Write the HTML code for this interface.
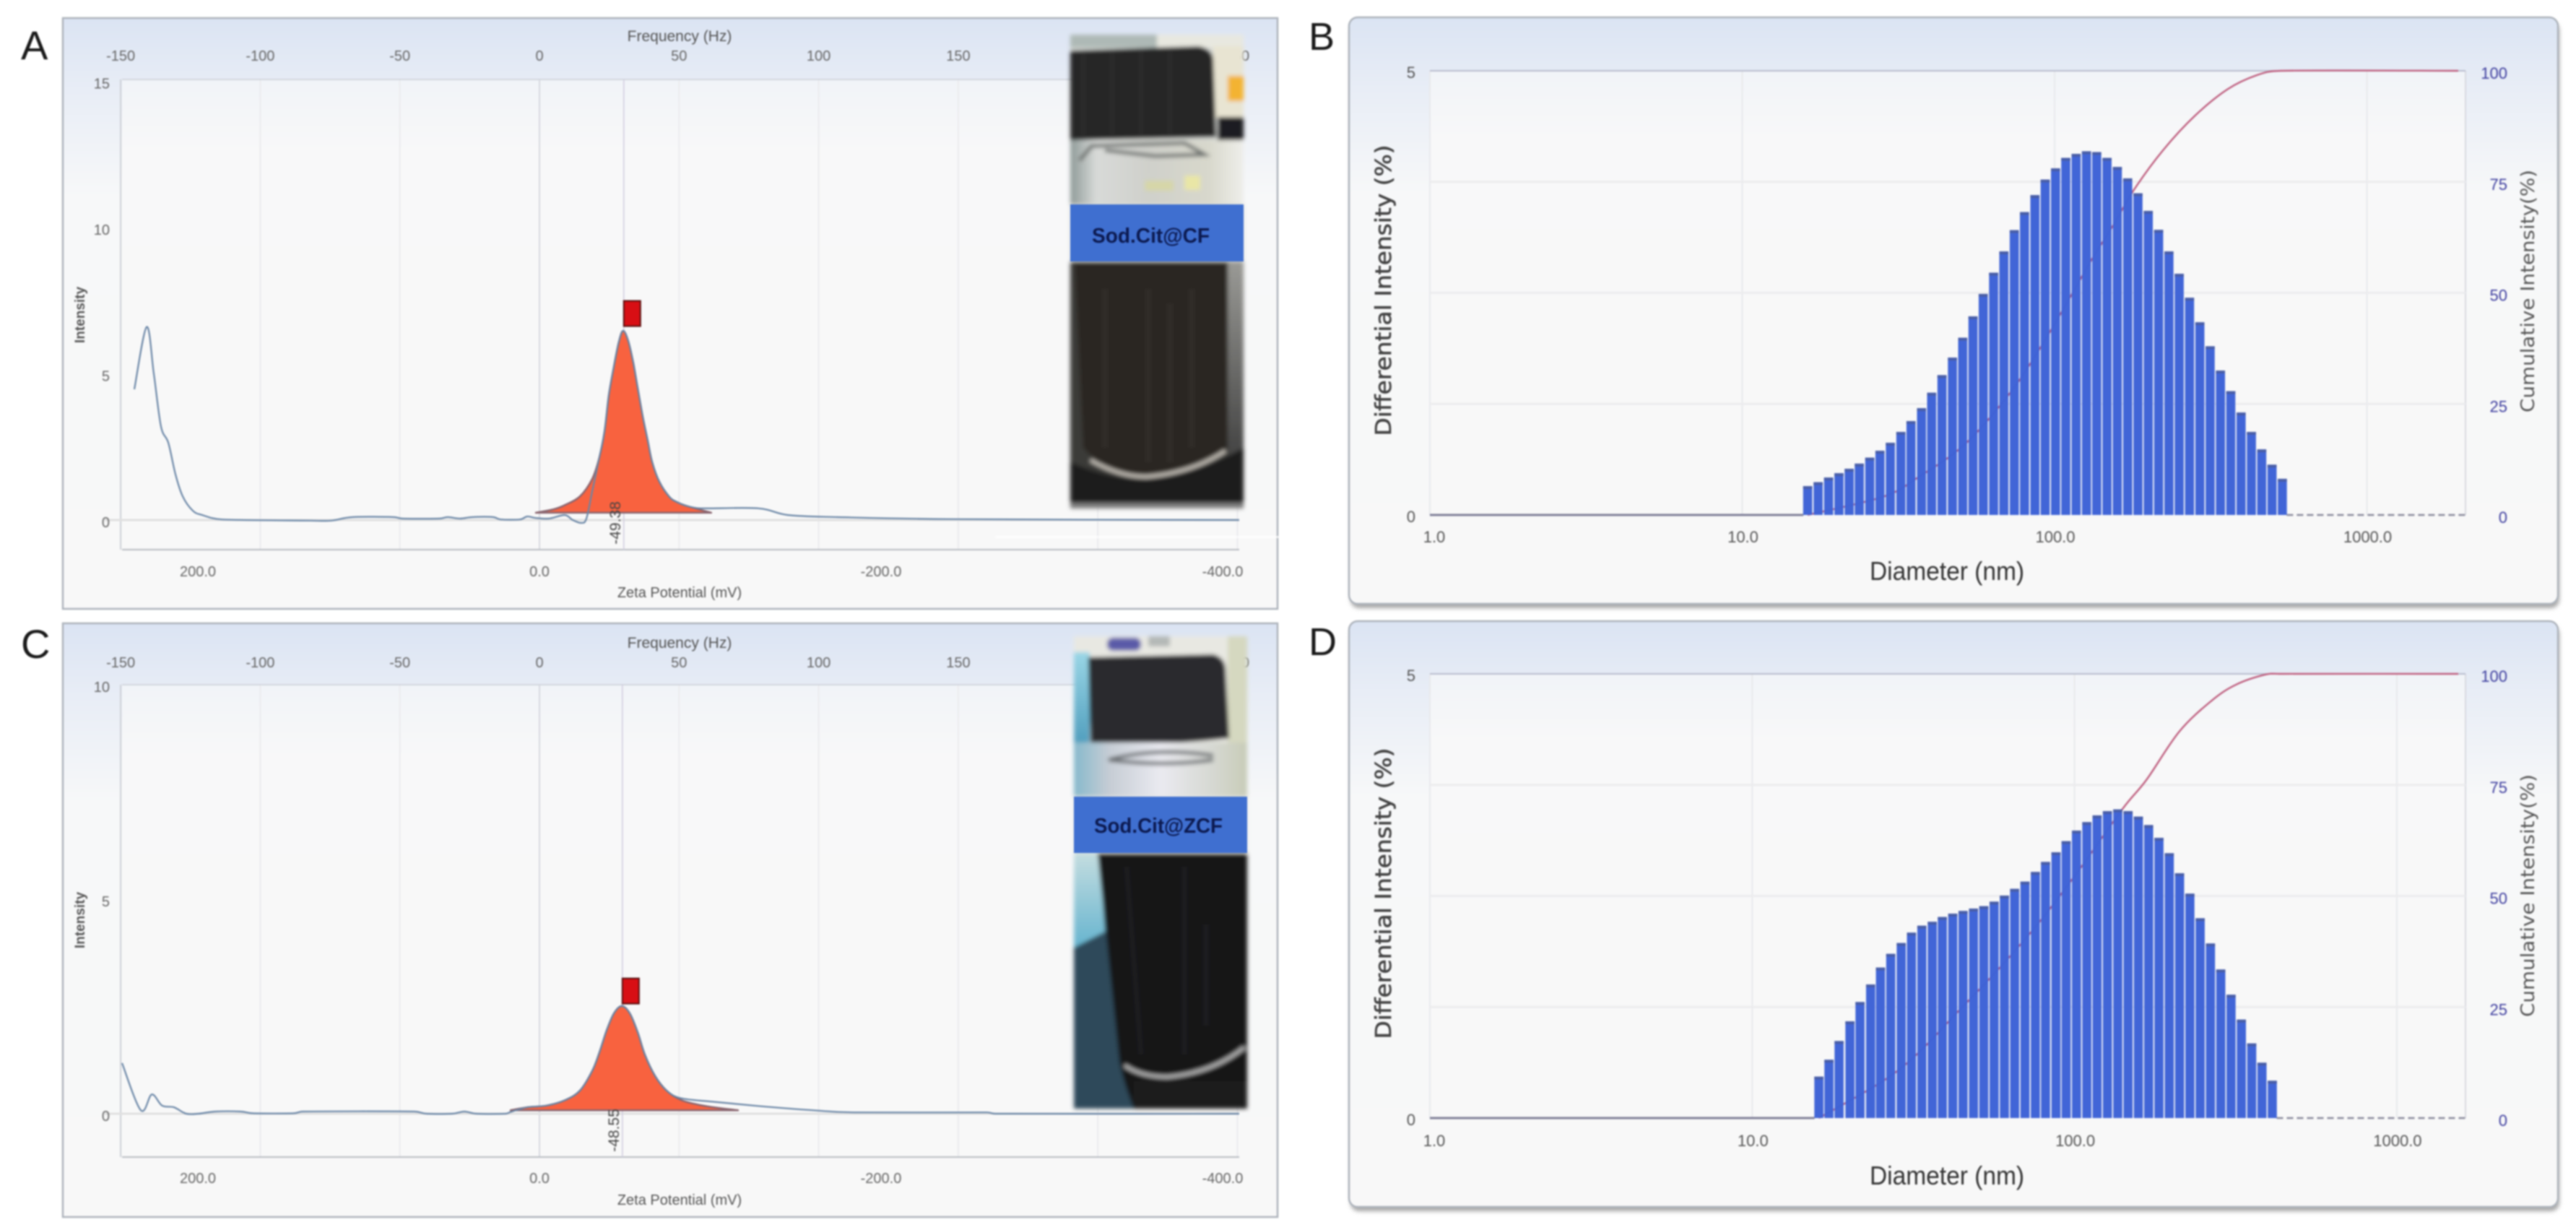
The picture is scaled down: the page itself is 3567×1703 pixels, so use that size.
<!DOCTYPE html>
<html lang="en">
<head>
<meta charset="utf-8">
<title>Zeta potential and particle size distributions</title>
<style>
  html, body { margin: 0; padding: 0; background: #ffffff; }
  #figure { display: block; width: 3567px; height: 1703px; filter: blur(1px); }
  text { font-family: "Liberation Sans", sans-serif; }
</style>
</head>
<body>
<svg id="figure" xmlns="http://www.w3.org/2000/svg" width="3567" height="1703" viewBox="0 0 3567 1703">
  <defs>
    <linearGradient id="panelGrad" x1="0" y1="0" x2="0" y2="1">
      <stop offset="0" stop-color="#dbe4f3"/>
      <stop offset="0.12" stop-color="#e8edf6"/>
      <stop offset="0.3" stop-color="#f7f8f9"/>
      <stop offset="1" stop-color="#f8f8f8"/>
    </linearGradient>
    <linearGradient id="plotGrad" x1="0" y1="0" x2="0" y2="1">
      <stop offset="0" stop-color="#f1f4f8"/>
      <stop offset="0.15" stop-color="#f8f8f9"/>
      <stop offset="1" stop-color="#f8f8f8"/>
    </linearGradient>
    <linearGradient id="glassA" x1="0" y1="0" x2="1" y2="0">
      <stop offset="0" stop-color="#8f9a98"/>
      <stop offset="0.15" stop-color="#d8dad8"/>
      <stop offset="0.45" stop-color="#cfd0cb"/>
      <stop offset="0.8" stop-color="#d8d8cc"/>
      <stop offset="1" stop-color="#eeeeea"/>
    </linearGradient>
    <linearGradient id="glassC" x1="0" y1="0" x2="1" y2="0">
      <stop offset="0" stop-color="#86b9cc"/>
      <stop offset="0.2" stop-color="#c5ccd4"/>
      <stop offset="0.5" stop-color="#eaeaf0"/>
      <stop offset="0.8" stop-color="#d6d8d2"/>
      <stop offset="1" stop-color="#c8ccb8"/>
    </linearGradient>
    <linearGradient id="sideGreyA" x1="0" y1="0" x2="0" y2="1">
      <stop offset="0" stop-color="#9a9a96"/>
      <stop offset="1" stop-color="#3a3a3a"/>
    </linearGradient>
    <linearGradient id="leftBlueC" x1="0" y1="0" x2="0" y2="1">
      <stop offset="0" stop-color="#9ad6e6"/>
      <stop offset="1" stop-color="#4f9dbd"/>
    </linearGradient>
    <linearGradient id="leftCyanC" x1="0" y1="0" x2="0" y2="1">
      <stop offset="0" stop-color="#c4dde0"/>
      <stop offset="1" stop-color="#66b4cf"/>
    </linearGradient>
    <filter id="photoBlur" x="-5%" y="-5%" width="110%" height="110%"><feGaussianBlur stdDeviation="3"/></filter>
    <filter id="softShadow" x="-2%" y="-5%" width="104%" height="110%"><feGaussianBlur stdDeviation="3"/></filter>
  </defs>

  <g id="charts"></g>

  <g>
    <g filter="url(#photoBlur)">
      <rect x="1482" y="48" width="240" height="656" fill="#d9dcd8"/>
      <rect x="1482" y="48" width="120" height="18" fill="#aeb9b6"/>
      <rect x="1602" y="48" width="120" height="18" fill="#e8e8e0"/>
      <rect x="1680" y="64" width="42" height="100" fill="#e8e4d2"/>
      <rect x="1700" y="105" width="22" height="35" fill="#f3b332"/>
      <rect x="1686" y="162" width="36" height="38" fill="#1f1f20"/>
      <path d="M1482 70 L1660 64 Q1679 68 1680 82 L1684 190 L1482 194 Z" fill="#262628"/>
      <path d="M1500 72V186M1540 70V186M1580 68V186M1620 68V186" stroke="#303032" stroke-width="3" fill="none"/>
      <rect x="1482" y="194" width="240" height="89" fill="url(#glassA)"/>
      <path d="M1495 222 L1512 202 L1640 198 L1668 214 L1600 216 L1530 208" stroke="#6a6e6c" stroke-width="5" fill="none"/>
      <rect x="1640" y="243" width="22" height="20" fill="#e9e6a6"/>
      <rect x="1585" y="250" width="40" height="14" fill="#d6d6a8"/>
      <rect x="1482" y="362" width="240" height="342" fill="#3b3b39"/>
      <rect x="1700" y="362" width="22" height="300" fill="url(#sideGreyA)"/>
      <path d="M1488 362 H1700 V625 Q1660 650 1590 660 Q1530 655 1500 620 Z" fill="#2a2521"/>
      <path d="M1530 400V620M1590 400V640M1620 420V640M1650 400V620" stroke="#322e2a" stroke-width="7" fill="none"/>
      <path d="M1482 640 Q1540 665 1590 664 Q1660 655 1722 620 V698 H1482 Z" fill="#1c1b1b"/>
      <path d="M1510 637 Q1550 660 1587 660 Q1650 655 1697 624" stroke="#c2bdb5" stroke-width="5" fill="none"/>
      <rect x="1482" y="696" width="240" height="8" fill="#7c7c7c"/>
    </g>
    <rect x="1482" y="283" width="240" height="79" fill="#3f6fd0"/>
    <text x="1512" y="336" font-size="29" font-weight="bold" textLength="163" lengthAdjust="spacingAndGlyphs" fill="#0c1a50">Sod.Cit@CF</text>
  </g>

  <g>
    <g filter="url(#photoBlur)">
      <rect x="1487" y="881" width="240" height="654" fill="#e8e8e2"/>
      <rect x="1533" y="883" width="47" height="18" rx="8" fill="#5a5aa8"/>
      <rect x="1590" y="881" width="30" height="14" fill="#b4b8b6"/>
      <rect x="1487" y="903" width="22" height="130" fill="url(#leftBlueC)"/>
      <rect x="1700" y="881" width="27" height="222" fill="#d5d8c0"/>
      <path d="M1507 910 L1680 906 Q1695 910 1697 925 L1702 1022 Q1600 1034 1510 1028 Z" fill="#2a2a2e"/>
      <rect x="1487" y="1028" width="240" height="75" fill="url(#glassC)"/>
      <path d="M1535 1052 Q1600 1034 1680 1046 M1535 1052 Q1610 1062 1680 1052" stroke="#6a6e72" stroke-width="5" fill="none"/>
      <rect x="1487" y="1181" width="240" height="354" fill="#2d4a5a"/>
      <path d="M1487 1181 H1522 L1530 1290 L1487 1312 Z" fill="url(#leftCyanC)"/>
      <path d="M1520 1181 H1727 V1535 H1570 Q1556 1500 1550 1470 Z" fill="#121214"/>
      <path d="M1560 1200L1580 1460M1640 1200V1460M1670 1280V1420" stroke="#1e1e20" stroke-width="7" fill="none"/>
      <path d="M1557 1475 Q1580 1491 1617 1491 Q1680 1485 1723 1450" stroke="#b4b4b4" stroke-width="5" fill="none"/>
      <rect x="1570" y="1497" width="157" height="38" fill="#1a1a1c"/>
    </g>
    <rect x="1487" y="1103" width="240" height="78" fill="#3f6fd0"/>
    <text x="1515" y="1153" font-size="29" font-weight="bold" textLength="178" lengthAdjust="spacingAndGlyphs" fill="#0c1a50">Sod.Cit@ZCF</text>
  </g>

  <rect x="1378" y="742" width="412" height="3" fill="#ffffff" opacity="0.7"/>
</svg>

<script>
// ---------- Panel A: zeta potential ----------
const zetaA = [237.2,230,225.8,221.6,217.3,213.1,208.9,203,197.5,186,134,121.8,109.5,85.4,80.3,58.8,53.7,46.5,39.3,27,22.8,11.4,7.2,2.1,-5.5,-14.8,-19.5,-24.5,-27.5,-30.9,-35.1,-38.1,-40.6,-43.6,-46.5,-49,-52,-55,-57.5,-60.5,-63.4,-66,-70.2,-76.1,-80.3,-85.8,-94.3,-128,-145.5,-174.6,-242,-409.7];
const intensityA = [4.47,6.6,5.0,3.2,2.64,1.56,0.81,0.32,0.17,0.02,-0.02,-0.02,0.1,0.1,0.05,0.05,0.1,0.05,0.1,0.1,0.02,0.02,0.12,0.07,0.05,0.17,0,-0.1,0.05,0.99,2.15,3.04,4.27,5.26,6.1,6.47,6.12,5.36,4.52,3.53,2.72,1.98,1.31,0.79,0.62,0.49,0.4,0.4,0.17,0.1,0.03,0];
const fitZetaA = [2.1,-8.5,-15.2,-23.7,-30.9,-35.1,-38.1,-40.6,-43.6,-46.5,-49,-52,-55,-57.5,-60.5,-63.4,-66,-70.2,-76.1,-80.3,-85.8,-100.6];
const fitIntensityA = [0.25,0.37,0.52,0.81,1.41,2.15,3.04,4.27,5.26,6.1,6.47,6.12,5.36,4.52,3.53,2.72,1.98,1.31,0.79,0.62,0.49,0.25];
const peakZetaA = [-49.38];
const markerIntensityA = [7.06];
const peakLabelA = ["-49.38"];
const intensityTicksA = [0,5,10,15];

// ---------- Panel C: zeta potential ----------
const zetaC = [244.4,233.4,227,221,214,206.8,199.6,189.9,175,167.9,143.8,138.7,73.2,66,51.2,44,36.8,19.9,16.9,7.2,-4.2,-15.2,-23.7,-30.9,-35.1,-39.3,-43.6,-48.2,-52.9,-57.5,-61.7,-67.7,-74.4,-82.9,-101.5,-128,-160,-184,-262,-267,-409.7];
const intensityC = [1.18,0.08,0.45,0.19,0.15,0,0,0.05,0.05,0.01,0.01,0.05,0.05,0,0,0.05,0,0,0.04,0.15,0.19,0.32,0.54,1.0,1.43,1.94,2.34,2.51,2.34,1.9,1.38,0.88,0.54,0.36,0.28,0.18,0.08,0.03,0.03,0,0];
const fitZetaC = [16.9,7.2,-4.2,-15.2,-23.7,-30.9,-35.1,-39.3,-43.6,-48.2,-52.9,-57.5,-61.7,-67.7,-74.4,-82.9,-94.3,-105.7,-116.3];
const fitIntensityC = [0.08,0.15,0.19,0.32,0.54,1.0,1.43,1.94,2.34,2.51,2.34,1.9,1.38,0.88,0.54,0.32,0.2,0.13,0.08];
const peakZetaC = [-48.55];
const markerIntensityC = [2.86];
const peakLabelC = ["-48.55"];
const intensityTicksC = [0,5,10];

// ---------- Shared zeta axes ----------
const frequencyTicks = [-150,-100,-50,0,50,100,150,200,250];
const zetaTicks = [200,0,-200,-400];
const zetaTickLabels = ["200.0","0.0","-200.0","-400.0"];

// ---------- Panel B: size distribution ----------
const diametersB = [16.2,17.5,18.9,20.4,22.0,23.7,25.6,27.6,29.8,32.2,34.7,37.5,40.4,43.6,47.1,50.8,54.8,59.1,63.8,68.8,74.3,80.1,86.5,93.3,100.7,108.6,117.2,126.5,136.4,147.2,158.8,171.4,184.9,199.5,215.3,232.3,250.6,270.4,291.8,314.8,339.7,366.5,395.5,426.7,460.4,496.8,536.0];
const differentialB = [0.325,0.369,0.421,0.470,0.520,0.578,0.645,0.723,0.813,0.935,1.057,1.202,1.376,1.574,1.771,1.995,2.236,2.488,2.727,2.967,3.206,3.409,3.600,3.775,3.902,4.019,4.065,4.094,4.085,4.019,3.917,3.789,3.621,3.423,3.209,2.967,2.715,2.445,2.169,1.899,1.626,1.394,1.153,0.935,0.738,0.566,0.407];
const cumulativeDiameterB = [16.2,28.5,36.8,51.4,71.5,89.9,111.9,131.2,154.9,179.5,222.3,282.5,358.9,443.6,530.9,1960];
const cumulativeB = [0,4.2,8.6,15.8,27.2,37.6,48.9,57.4,65.5,73.2,82.1,90,95.9,99,100,100];

// ---------- Panel D: size distribution ----------
const diametersD = [16.1,17.3,18.6,20.1,21.6,23.3,25.0,26.9,29.0,31.2,33.6,36.2,38.9,41.9,45.1,48.6,52.3,56.3,60.6,65.2,70.2,75.6,81.3,87.6,94.2,101.4,109.2,117.5,126.5,136.2,146.6,157.8,169.8,182.8,196.8,211.8,228.0,245.4,264.1,284.3,306.0,329.4,354.6,381.6,410.8];
const differentialD = [0.466,0.656,0.867,1.089,1.306,1.504,1.694,1.848,1.970,2.087,2.165,2.209,2.263,2.301,2.331,2.358,2.385,2.436,2.504,2.580,2.661,2.770,2.883,2.992,3.117,3.236,3.331,3.407,3.455,3.474,3.455,3.393,3.298,3.154,2.981,2.756,2.526,2.249,1.965,1.672,1.388,1.108,0.840,0.623,0.420];
const cumulativeDiameterD = [16.1,25.4,32.7,43.0,57.7,77.8,103.9,140.9,167.0,211.3,266.7,317.5,389.3,436,1551];
const cumulativeD = [0,8.3,14.6,23.6,33.3,44.1,56.1,69.6,76.1,87,94,97.6,99.8,100,100];

// ---------- Shared size axes ----------
const diameterTicks = [1,10,100,1000];
const diameterTickLabels = ["1.0","10.0","100.0","1000.0"];
const differentialTicks = [0,5];
const cumulativeTicks = [0,25,50,75,100];

const NS = 'http://www.w3.org/2000/svg';
const root = document.getElementById('charts');

function mk(parent, tag, attrs, content) {
  const el = document.createElementNS(NS, tag);
  for (const k in attrs) el.setAttribute(k, attrs[k]);
  if (content !== undefined) el.textContent = content;
  parent.appendChild(el);
  return el;
}
// Smooth path through the plotted values (Catmull-Rom with limited tangents).
function smoothPath(xs, ys, fx, fy) {
  const P = xs.map((v, i) => [fx(v), fy(ys[i])]);
  let d = 'M' + P[0][0].toFixed(1) + ' ' + P[0][1].toFixed(1);
  const limit = (t, seg) => {
    const m = Math.abs(t[0]);
    const f = m > seg / 2 ? (seg / 2) / m : 1;
    return [t[0] * f, t[1] * f];
  };
  for (let i = 0; i < P.length - 1; i++) {
    const p0 = P[Math.max(i - 1, 0)], p1 = P[i], p2 = P[i + 1], p3 = P[Math.min(i + 2, P.length - 1)];
    const seg = Math.abs(p2[0] - p1[0]) || 1;
    const t1 = limit([(p2[0] - p0[0]) / 6, (p2[1] - p0[1]) / 6], seg);
    const t2 = limit([(p3[0] - p1[0]) / 6, (p3[1] - p1[1]) / 6], seg);
    d += ' C' + (p1[0] + t1[0]).toFixed(1) + ' ' + (p1[1] + t1[1]).toFixed(1) + ' ' + (p2[0] - t2[0]).toFixed(1) + ' ' + (p2[1] - t2[1]).toFixed(1) + ' ' + p2[0].toFixed(1) + ' ' + p2[1].toFixed(1);
  }
  return d;
}

function drawZetaPanel(cfg) {
  const g = mk(root, 'g', {});
  
  

  const xZeta = mv => 747 - 2.365 * mv;
  const xFreq = hz => 747 + 3.866 * hz;
  const yI = v => cfg.y0 - cfg.pxPerUnit * v;
  const L = 169, R = 1716;

  const frame = mk(g, 'rect', { x: 87, y: cfg.frameTop, width: 1682, height: cfg.frameH, fill: 'url(#panelGrad)', stroke: '#aeb4bc', 'stroke-width': 2.5 });
  
  

  const plot = mk(g, 'rect', { x: L, y: cfg.top, width: R - L, height: cfg.bottom - cfg.top, fill: 'url(#plotGrad)' });
  
  

  frequencyTicks.forEach(hz => {
    const x = xFreq(hz);
    const line = mk(g, 'line', { x1: x, x2: x, y1: cfg.top, y2: cfg.bottom, stroke: hz === 0 ? '#d0d1da' : (hz === -150 ? '#cdd0d6' : '#ebebee'), 'stroke-width': hz === 0 ? 1.6 : 2 });
    
    
    const lab = mk(g, 'text', { x: x, y: cfg.freqTickY + 7, 'text-anchor': 'middle', 'font-size': 20, fill: '#666' }, String(hz));
    
    
  });

  const topLine = mk(g, 'line', { x1: L, x2: R, y1: cfg.top, y2: cfg.top, stroke: '#d2d6de', 'stroke-width': 2 });
  
  
  const botLine = mk(g, 'line', { x1: L, x2: R, y1: cfg.bottom, y2: cfg.bottom, stroke: '#b8bcc2', 'stroke-width': 2 });
  
  
  const zero = mk(g, 'line', { x1: 145, x2: R, y1: yI(0), y2: yI(0), stroke: '#e0e0e0', 'stroke-width': 3 });
  
  

  const peakX = xZeta(cfg.peakZeta[0]);
  const peakLine = mk(g, 'line', { x1: peakX, x2: peakX, y1: cfg.top, y2: cfg.bottom, stroke: '#d2cee0', 'stroke-width': 1.6 });
  
  

  const fit = mk(g, 'path', { d: smoothPath(cfg.fitZeta, cfg.fitI, xZeta, yI) + ' Z', fill: '#f8623f', stroke: '#8a6670', 'stroke-width': 2.5, 'stroke-linejoin': 'round' });
  
  

  const line = mk(g, 'path', { d: smoothPath(cfg.zeta, cfg.intensity, xZeta, yI), fill: 'none', stroke: '#6a86a6', 'stroke-width': 2.2, 'stroke-linejoin': 'round' });
  
  

  const marker = mk(g, 'rect', { x: peakX, y: yI(cfg.markerI[0]) - 17.5, width: 23, height: 35, fill: '#d80f14', stroke: '#5a1010', 'stroke-width': 2 });
  
  

  const peakY = cfg.y0 + cfg.peakLabelDy;
  const pl = mk(g, 'text', { x: 0, y: 0, transform: 'translate(' + (peakX - 5) + ',' + peakY + ') rotate(-90)', 'text-anchor': 'middle', 'font-size': 21, fill: '#444' }, cfg.peakLabel[0]);
  
  

  cfg.iTicks.forEach(v => {
    const t = mk(g, 'text', { x: 152, y: yI(v) + 10, 'text-anchor': 'end', 'font-size': 20, fill: '#666' }, String(v));
    
    
  });

  zetaTicks.forEach((mv, i) => {
    const t = mk(g, 'text', { x: xZeta(mv), y: cfg.zetaTickY + 7, 'text-anchor': 'middle', 'font-size': 20, fill: '#666' }, zetaTickLabels[i]);
    
    
  });

  const ft = mk(g, 'text', { x: 941, y: cfg.freqTitleY + 7, 'text-anchor': 'middle', 'font-size': 21, fill: '#555' }, 'Frequency (Hz)');
  
  
  const zt = mk(g, 'text', { x: 941, y: cfg.zetaTitleY + 7, 'text-anchor': 'middle', 'font-size': 20, fill: '#555' }, 'Zeta Potential (mV)');
  
  
  const yt = mk(g, 'text', { transform: 'translate(117,' + cfg.intTitleY + ') rotate(-90)', 'text-anchor': 'middle', 'font-size': 19, fill: '#555', 'font-weight': 'bold' }, 'Intensity');
  
  

  const letter = mk(g, 'text', { x: 29, y: cfg.letterY, 'font-size': 56, fill: '#1a1a1a' }, cfg.id.toUpperCase());
  
  
}

function drawSizePanel(cfg) {
  const g = mk(root, 'g', {});
  
  

  const L = 1980, R = 3414;
  const xD = d => L + Math.log10(d) * cfg.decade;
  const yDiff = v => cfg.y0 - (cfg.y0 - cfg.top) * v / 5;
  const yCum = p => cfg.y0 - (cfg.y0 - cfg.top) * p / 100;

  const shadow = mk(g, 'rect', { x: 1870, y: cfg.frameTop + 6, width: 1674, height: cfg.frameH, rx: 12, fill: '#a8a8a8', filter: 'url(#softShadow)' });
  
  
  const frame = mk(g, 'rect', { x: 1868, y: cfg.frameTop, width: 1674, height: cfg.frameH, rx: 12, fill: 'url(#panelGrad)', stroke: '#aeb4bc', 'stroke-width': 2.5 });
  
  
  const plot = mk(g, 'rect', { x: L, y: cfg.top, width: R - L, height: cfg.y0 - cfg.top, fill: 'url(#plotGrad)' });
  
  

  diameterTicks.forEach((d, i) => {
    const x = xD(d);
    const gl = mk(g, 'line', { x1: x, x2: x, y1: cfg.top, y2: cfg.y0, stroke: '#e8e9ec', 'stroke-width': 2 });
    
    
    const t = mk(g, 'text', { x: x + (d === 1 ? 6 : 1), y: cfg.xTickY + 8, 'text-anchor': 'middle', 'font-size': 22, fill: '#555' }, diameterTickLabels[i]);
    
    
  });
  const rightAxis = mk(g, 'line', { x1: R, x2: R, y1: cfg.top, y2: cfg.y0, stroke: '#d8d9e0', 'stroke-width': 2 });
  
  

  cumulativeTicks.forEach(p => {
    const y = yCum(p);
    if (p > 0 && p < 100) {
      const gl = mk(g, 'line', { x1: L, x2: R, y1: y, y2: y, stroke: '#ececee', 'stroke-width': 3 });
      
      
    }
    const t = mk(g, 'text', { x: 3472, y: y + 11, 'text-anchor': 'end', 'font-size': 22, fill: '#3f3f9f' }, String(p));
    
    
  });

  const topLine = mk(g, 'line', { x1: L, x2: R, y1: cfg.top, y2: cfg.top, stroke: '#b8bccd', 'stroke-width': 2 });
  
  

  differentialTicks.forEach(v => {
    const t = mk(g, 'text', { x: 1960, y: yDiff(v) + 10, 'text-anchor': 'end', 'font-size': 22, fill: '#555' }, String(v));
    
    
  });

  const firstX = xD(cfg.diameters[0]) - 6;
  const lastX = xD(cfg.diameters[cfg.diameters.length - 1]) + 6;
  const base = mk(g, 'line', { x1: L, x2: firstX, y1: cfg.y0, y2: cfg.y0, stroke: '#7f7f98', 'stroke-width': 3 });
  
  
  const dash = mk(g, 'line', { x1: lastX, x2: R, y1: cfg.y0, y2: cfg.y0, stroke: '#8a8a9c', 'stroke-width': 2.5, 'stroke-dasharray': '9 5' });
  
  

  const curve = mk(g, 'path', { d: smoothPath(cfg.cumD, cfg.cum, xD, yCum), fill: 'none', stroke: '#bf6080', 'stroke-width': 2.4, 'stroke-linejoin': 'round' });
  
  

  cfg.diameters.forEach((d, i) => {
    const x = xD(d) - 6.3;
    const y = yDiff(cfg.diff[i]);
    const bar = mk(g, 'rect', { x: x, y: y, width: 12.6, height: cfg.y0 - y, fill: '#3d62d6', 'fill-opacity': 0.98 });
    
    
    const cap = mk(g, 'rect', { x: x, y: y, width: 12.6, height: 4, fill: '#4a5fa8' });
    
    
  });

  const lt = mk(g, 'text', { transform: 'translate(1926,' + cfg.leftTitleY + ') rotate(-90)', 'text-anchor': 'middle', 'font-size': 30, textLength: 403, lengthAdjust: 'spacingAndGlyphs', fill: '#444', stroke: '#444', 'stroke-width': 0.6, style: 'font-family:"DejaVu Sans",sans-serif' }, 'Differential Intensity (%)');
  
  
  const rt = mk(g, 'text', { transform: 'translate(3509,' + cfg.rightTitleY + ') rotate(-90)', 'text-anchor': 'middle', 'font-size': 26, textLength: 336, lengthAdjust: 'spacingAndGlyphs', fill: '#555', style: 'font-family:"DejaVu Sans",sans-serif' }, 'Cumulative Intensity(%)');
  
  
  const xt = mk(g, 'text', { x: 2696, y: cfg.xTitleY + 12, 'text-anchor': 'middle', 'font-size': 36, textLength: 214, lengthAdjust: 'spacingAndGlyphs', fill: '#333' }, 'Diameter (nm)');
  
  

  const letter = mk(g, 'text', { x: 1812, y: cfg.letterY, 'font-size': 54, fill: '#1a1a1a' }, cfg.id.toUpperCase());
  
  
}

drawZetaPanel({ id: 'a', frameTop: 25, frameH: 818, top: 110, bottom: 761, y0: 720, pxPerUnit: 40.5,
  zeta: zetaA, intensity: intensityA, fitZeta: fitZetaA, fitI: fitIntensityA, peakZeta: peakZetaA, markerI: markerIntensityA,
  peakLabel: peakLabelA, iTicks: intensityTicksA, peakLabelDy: 4, freqTickY: 77, zetaTickY: 791, freqTitleY: 50, zetaTitleY: 820, intTitleY: 436, letterY: 82 });

drawZetaPanel({ id: 'c', frameTop: 863, frameH: 822, top: 948, bottom: 1602, y0: 1542, pxPerUnit: 59.4,
  zeta: zetaC, intensity: intensityC, fitZeta: fitZetaC, fitI: fitIntensityC, peakZeta: peakZetaC, markerI: markerIntensityC,
  peakLabel: peakLabelC, iTicks: intensityTicksC, peakLabelDy: 23, freqTickY: 917, zetaTickY: 1631, freqTitleY: 890, zetaTitleY: 1661, intTitleY: 1274, letterY: 911 });

drawSizePanel({ id: 'b', frameTop: 24, frameH: 812, top: 98, y0: 713, decade: 432.5,
  diameters: diametersB, diff: differentialB, cumD: cumulativeDiameterB, cum: cumulativeB,
  xTickY: 743, xTitleY: 791, leftTitleY: 402, rightTitleY: 403, letterY: 69 });

drawSizePanel({ id: 'd', frameTop: 860, frameH: 811, top: 933, y0: 1548, decade: 446.3,
  diameters: diametersD, diff: differentialD, cumD: cumulativeDiameterD, cum: cumulativeD,
  xTickY: 1579, xTitleY: 1628, leftTitleY: 1237, rightTitleY: 1240, letterY: 907 });
</script>
</body>
</html>
